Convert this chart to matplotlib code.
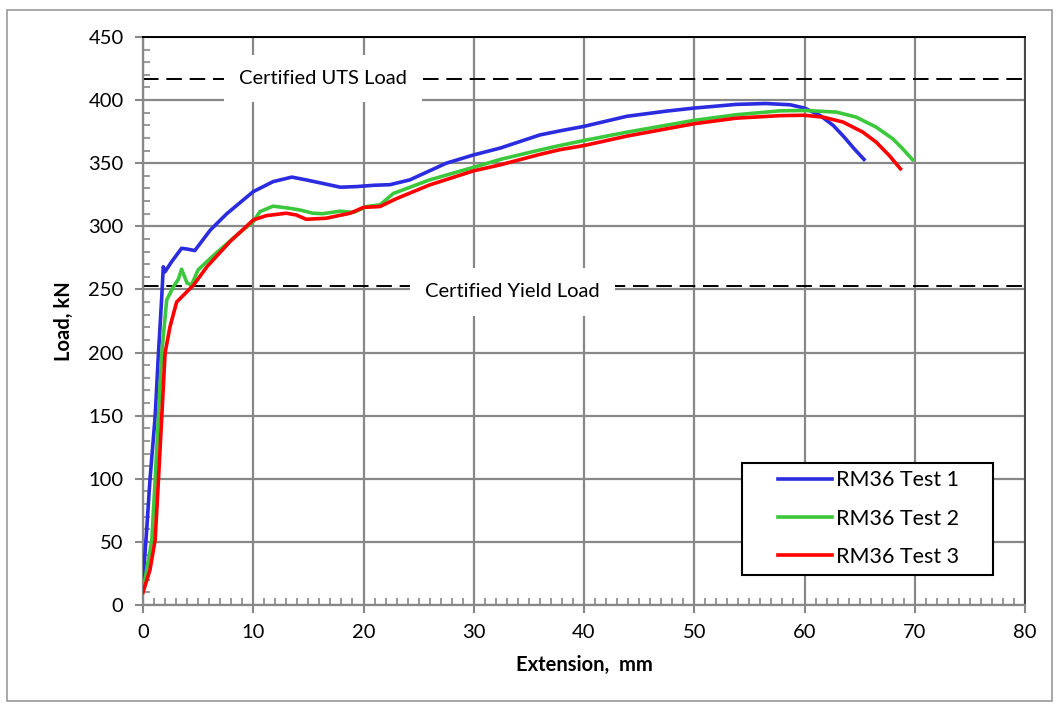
import matplotlib.pyplot as plt
from matplotlib.patches import Rectangle
from matplotlib.ticker import MultipleLocator

# Test 1
ext1 = [0, 0.3, 0.63, 1.1, 1.4, 1.7, 1.84, 2.0, 2.6, 3.5, 4.0, 4.7, 6.1, 7.6, 10.0, 11.8, 13.5,
        14.8, 16.3, 17.9, 19.4, 20.9, 22.4, 24.2, 27.5, 30, 32.4, 36, 37.8, 40, 43.9, 47.5, 50,
        53.8, 56.5, 58.7, 60, 61.4, 62.6, 63.6, 64.5, 65.4]
load1 = [20, 55, 99, 149, 199, 244, 268, 264, 272, 282.6, 282, 280.8, 297, 310, 327.5, 335.4, 339,
         336.8, 334, 331, 331.5, 332.5, 333, 336.8, 350, 356.6, 362, 372.4, 375.6, 379.2, 387.2, 391.3, 393.7,
         396.6, 397.3, 396.3, 393.7, 387.9, 380, 370.7, 361.5, 353]

# Test 2
ext2 = [0, 0.18, 0.8, 1.1, 1.4, 1.7, 2.15, 2.75, 3.2, 3.5, 4.0, 4.4, 5.0, 6.4, 8.5, 10.0, 10.6,
        11.8, 13.3, 14.2, 15.4, 16.3, 17.9, 19.1, 20.3, 21.5, 22.7, 26, 30, 32.4, 36, 37.8, 40,
        43.9, 50, 53.8, 57.8, 60, 62.9, 64.7, 66.5, 68.0, 68.9, 69.8]
load2 = [13, 20, 51.5, 99, 149, 199.5, 241.7, 252, 258, 266, 255, 253.6, 265.5, 277, 293, 303.7, 311.6,
         316, 314.3, 313, 310.4, 310, 312, 311, 315.7, 317, 326, 336.8, 346.8, 353, 360.5, 364, 368,
         374.6, 384, 388.4, 391.5, 391.8, 390.5, 386.5, 378.6, 369.4, 361.5, 352.8]

# Test 3
ext3 = [0, 0.63, 1.1, 1.4, 1.7, 2.0, 2.45, 3.05, 4.6, 5.8, 7.9, 10.0, 11.2, 13.0, 13.9, 14.8, 16.6,
        18.8, 20.0, 21.5, 23, 26, 30, 32.4, 36, 37.8, 40, 43.9, 50, 53.8, 57.8, 60, 61.7, 63.5,
        65.3, 66.5, 67.7, 68.7]
load3 = [10, 27.7, 51.5, 99, 149, 199.5, 220.5, 240, 253.6, 268, 288, 305, 308.5, 310.4, 309, 305.6, 306.4,
         310.4, 315, 315.7, 322, 332.8, 344, 348.7, 357, 360.7, 364, 371.5, 381.3, 385.7, 387.7, 388, 386.5, 382.6,
         374.6, 366.7, 356, 345.6]

labels = ['RM36 Test 1', 'RM36 Test 2', 'RM36 Test 3']
colors = ['#2b2be0', '#3cc83c', '#ff0000']

uts_load = 417
yield_load = 253

plt.rcParams['font.family'] = ['Lato', 'DejaVu Sans']
plt.rcParams['font.size'] = 14.5

fig = plt.figure(figsize=(10.59, 7.07), dpi=100)
ax = fig.add_axes([143 / 1059, 102 / 707, 882 / 1059, 568 / 707])

fig.patches.append(Rectangle((7 / 1059, 6 / 707), 1045 / 1059, 691 / 707, transform=fig.transFigure,
                             fill=False, edgecolor='#999999', lw=1.2))

gray = '#888888'
ax.set_xlim(0, 80)
ax.set_ylim(0, 450)
ax.xaxis.set_major_locator(MultipleLocator(10))
ax.xaxis.set_minor_locator(MultipleLocator(1))
ax.yaxis.set_major_locator(MultipleLocator(50))
ax.yaxis.set_minor_locator(MultipleLocator(10))
ax.grid(True, which='major', color=gray, lw=1.6)
ax.set_axisbelow(True)
ax.tick_params(which='major', direction='out', length=6, width=1.5, color=gray, pad=8)
ax.tick_params(which='minor', direction='in', length=5, width=1.2, color=gray)
for s in ['left', 'bottom']:
    ax.spines[s].set_color(gray)
    ax.spines[s].set_linewidth(1.6)
ax.spines['top'].set_color('black')
ax.spines['top'].set_linewidth(1.4)
ax.spines['right'].set_color('#444444')
ax.spines['right'].set_linewidth(1.4)

ax.axhline(uts_load, color='black', lw=1.4, dashes=(8, 4), zorder=2)
ax.axhline(yield_load, color='black', lw=1.4, dashes=(8, 4), zorder=2)

box = dict(boxstyle='square,pad=0.75', facecolor='white', edgecolor='none')
ax.text(16.3, uts_load, 'Certified UTS Load', ha='center', va='center', bbox=box, zorder=3)
ax.text(33.5, yield_load - 5, 'Certified Yield Load', ha='center', va='center', bbox=box, zorder=3)

ax.plot(ext1, load1, color=colors[0], lw=2.6, label=labels[0], zorder=4)
ax.plot(ext2, load2, color=colors[1], lw=2.6, label=labels[1], zorder=4)
ax.plot(ext3, load3, color=colors[2], lw=2.6, label=labels[2], zorder=4)

# legend frame drawn separately so the padding can be wider than tall
ax.add_patch(Rectangle((0.679, 0.053), 0.285, 0.197, transform=ax.transAxes, facecolor='white',
                       edgecolor='black', lw=1.5, zorder=5))
leg = ax.legend(loc='upper left', bbox_to_anchor=(0.72, 0.237), borderaxespad=0, borderpad=0,
                frameon=False, fontsize=15.5, handlelength=2.5, labelspacing=0.85,
                handletextpad=0.2)
leg.set_zorder(6)

ax.set_xlabel('Extension,  mm', fontweight='bold', labelpad=10)
ax.set_ylabel('Load, kN', fontweight='bold', labelpad=10)

fig.savefig('out.png', dpi=100)
